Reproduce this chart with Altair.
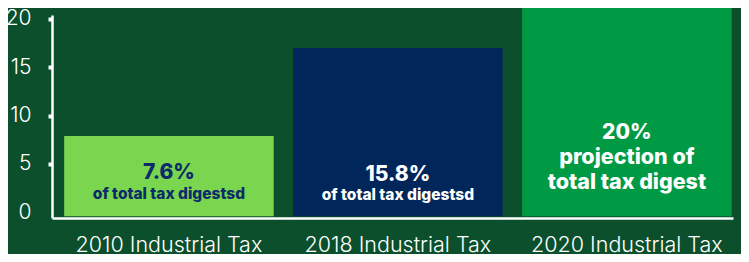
import altair as alt
import pandas as pd

categories = ["2010 Industrial Tax", "2018 Industrial Tax", "2020 Industrial Tax"]
values = [7.9, 17.0, 21.3]
headlines = ["7.6%", "15.8%", "20%"]
sublines = ["of total tax digestsd", "of total tax digestsd", ""]
bar3_lines = ["projection of", "total tax digest"]
y_ticks = [0, 5, 10, 15, 20]

BG = "#0b4f2c"
colors = ["#7ad64e", "#00265a", "#009a44"]
NAVY = "#0d2a6b"
LIGHT = "Inter"
BOLD = "Inter"

bars_df = pd.DataFrame({"cat": categories, "value": values})
head_df = pd.DataFrame({"cat": categories, "text": headlines})
sub_df = pd.DataFrame({"cat": categories, "text": sublines})
b3_df = pd.DataFrame({"cat": [categories[2]] * 2, "text": bar3_lines, "i": [0, 1]})

xs = alt.X("cat:N", sort=categories,
           scale=alt.Scale(paddingInner=0.085, paddingOuter=0.0295, align=0.9),
           axis=alt.Axis(title=None, labelAngle=0, labelColor="white", labelFontSize=21.5,
                         labelFont=LIGHT, labelFontWeight=300, labelPadding=33,
                         labelBaseline="alphabetic", labelLimit=400,
                         ticks=False, domainColor="white", domainWidth=2.5))
ys = alt.Y("value:Q", scale=alt.Scale(domain=[-0.59, 20.41], nice=False, zero=False),
           axis=alt.Axis(title=None, values=y_ticks, labelColor="white", labelFontSize=21,
                         labelFont=LIGHT, labelFontWeight=300, labelPadding=17,
                         tickColor="white", tickWidth=4, tickSize=4,
                         tickOpacity={"condition": {"test": "datum.value == 0", "value": 0}, "value": 1},
                         domainColor="white", domainWidth=2.5, grid=False))

bars = alt.Chart(bars_df).mark_bar(clip=False).encode(
    x=xs, y=ys, y2=alt.datum(-0.4),
    color=alt.Color("cat:N", sort=categories, scale=alt.Scale(domain=categories, range=colors), legend=None),
)

def txt(df, cat, color, size, dy, flt=None):
    c = alt.Chart(df).transform_filter(alt.datum.cat == cat)
    if flt is not None:
        c = c.transform_filter(flt)
    return c.mark_text(
        color=color, fontSize=size, fontWeight=800, font=BOLD, dy=dy, baseline="middle"
    ).encode(x=alt.X("cat:N", sort=categories), y=alt.datum(0), text="text:N")

layers = [
    bars,
    txt(head_df, categories[0], NAVY, 21, -39),
    txt(sub_df, categories[0], NAVY, 15.5, -18),
    txt(head_df, categories[1], "white", 21, -37),
    txt(sub_df, categories[1], "white", 15.5, -17),
    txt(head_df, categories[2], "white", 21, -79),
    txt(b3_df, categories[2], "white", 21.5, -54, alt.datum.i == 0),
    txt(b3_df, categories[2], "white", 21.5, -29, alt.datum.i == 1),
]

chart = alt.layer(*layers).properties(
    width=681, height=203, background=BG,
    autosize=alt.AutoSizeParams(type="none"),
    padding={"left": 44, "top": 7, "right": 8, "bottom": 36},
).configure_view(stroke=None)

chart.save("out.html", embed_options={"renderer": "svg", "actions": False})
